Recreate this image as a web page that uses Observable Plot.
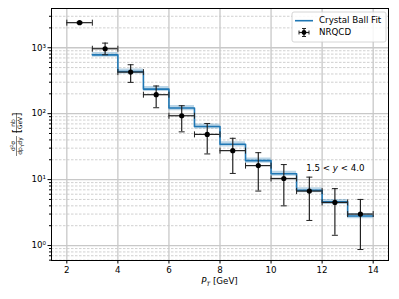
<!DOCTYPE html>
<html>
<head>
<meta charset="utf-8">
<script src="https://cdn.jsdelivr.net/npm/d3@7"></script>
<script src="https://cdn.jsdelivr.net/npm/@observablehq/plot@0.6"></script>
<style>
  html, body { margin: 0; padding: 0; background: #fff; }
  svg { display: block; }
</style>
</head>
<body>
<div id="chart"></div>
<script>
// ---- data ----
const binEdges = [3, 4, 5, 6, 7, 8, 9, 10, 11, 12, 13, 14];
const fitValues = [780, 437, 236, 122, 64, 34.3, 19.4, 12.3, 6.9, 4.6, 2.8];
const fitLow =   [715, 400, 216, 111, 58.5, 31.3, 17.7, 11.2, 6.3, 4.2, 2.55];
const fitHigh =  [850, 477, 258, 133, 70, 37.5, 21.2, 13.4, 7.5, 5.0, 3.05];

const ptX =    [2.5, 3.5, 4.5, 5.5, 6.5, 7.5, 8.5, 9.5, 10.5, 11.5, 12.5, 13.5];
const ptXerr = [0.5, 0.5, 0.5, 0.5, 0.5, 0.5, 0.5, 0.5, 0.5, 0.5, 0.5, 0.5];
const ptY =    [2400, 965, 427, 194, 93, 48.5, 27.5, 16.3, 10.4, 6.7, 4.5, 3.0];
const ptYlo =  [2350, 783, 298, 123, 53, 24.5, 12.4, 6.7, 4.0, 2.4, 1.43, 0.87];
const ptYhi =  [2450, 1175, 552, 263, 132, 71, 42.3, 25.6, 16.9, 10.9, 7.3, 5.0];

const xTicks = [2, 4, 6, 8, 10, 12, 14];
const yTicks = [1, 10, 100, 1000];
const yTickLabels = ["10\u2070", "10\u00B9", "10\u00B2", "10\u00B3"];
const yMinorMultipliers = [2, 3, 4, 5, 6, 7, 8, 9];
const annotation = {x: 12.54, y: 14.8};

// ---- derived tables ----
const stairs = binEdges.map((e, i) => {
  const k = Math.min(i, fitValues.length - 1);
  return {x: e, y: fitValues[k], lo: fitLow[k], hi: fitHigh[k]};
});
const points = ptX.map((x, i) => ({
  x, y: ptY[i], x1: x - ptXerr[i], x2: x + ptXerr[i], y1: ptYlo[i], y2: ptYhi[i]
}));
const yMinor = [];
[0.1, 1, 10, 100, 1000].forEach(d => yMinorMultipliers.forEach(m => {
  const v = d * m;
  if (v > 0.59 && v < 3900) yMinor.push(v);
}));

// custom cap symbols
const hCap = {draw(ctx, size) { const r = 3; ctx.moveTo(-r, 0); ctx.lineTo(r, 0); }};
const vCap = {draw(ctx, size) { const r = 3; ctx.moveTo(0, -r); ctx.lineTo(0, r); }};

const C0 = "#1f77b4";
const ebColor = "#222";

const plot = Plot.plot({
  width: 399,
  height: 299,
  marginLeft: 51,
  marginRight: 11,
  marginTop: 8,
  marginBottom: 39,
  style: {fontFamily: "DejaVu Sans", fontSize: "8.7px", background: "#fff", color: "#000"},
  x: {domain: [1.4, 14.6]},
  y: {type: "log", domain: [0.593, 3936]},
  marks: [
    Plot.ruleY(yMinor, {stroke: "#c4c4c4", strokeWidth: 0.8, strokeDasharray: "2.5,1.5"}),
    Plot.gridX({ticks: xTicks, stroke: "#c8c8c8", strokeOpacity: 1, strokeWidth: 1.3}),
    Plot.gridY({ticks: yTicks, stroke: "#c8c8c8", strokeOpacity: 1, strokeWidth: 1.3}),
    Plot.areaY(stairs, {x: "x", y1: "lo", y2: "hi", curve: "step-after", fill: C0, fillOpacity: 0.3}),
    Plot.line(stairs, {x: "x", y: "y", curve: "step-after", stroke: C0, strokeWidth: 1.6}),
    Plot.ruleY(points, {y: "y", x1: "x1", x2: "x2", stroke: ebColor, strokeWidth: 1.2}),
    Plot.ruleX(points, {x: "x", y1: "y1", y2: "y2", stroke: ebColor, strokeWidth: 1.2}),
    Plot.dot(points, {x: "x1", y: "y", symbol: vCap, r: 3, stroke: ebColor, strokeWidth: 1}),
    Plot.dot(points, {x: "x2", y: "y", symbol: vCap, r: 3, stroke: ebColor, strokeWidth: 1}),
    Plot.dot(points, {x: "x", y: "y1", symbol: hCap, r: 3, stroke: ebColor, strokeWidth: 1}),
    Plot.dot(points, {x: "x", y: "y2", symbol: hCap, r: 3, stroke: ebColor, strokeWidth: 1}),
    Plot.dot(points, {x: "x", y: "y", r: 2.6, fill: "#000", stroke: "none"}),
    Plot.axisX({ticks: xTicks, tickSize: 3.5, tickPadding: 3, label: null, tickFormat: d => String(d)}),
    Plot.axisY({ticks: yTicks, tickSize: 3.5, tickPadding: 2, label: null,
      tickFormat: d => yTickLabels[yTicks.indexOf(d)]}),
    Plot.axisY({ticks: yMinor, tickSize: 2, tickFormat: () => "", label: null}),
    Plot.frame({stroke: "#000", strokeWidth: 1})
  ]
});

document.getElementById("chart").appendChild(plot);

const svg = d3.select(plot);
const xs = plot.scale("x"), ys = plot.scale("y");
const FF = "DejaVu Sans";

// annotation 1.5 < y < 4.0
const ann = svg.append("text")
  .attr("x", xs.apply(annotation.x)).attr("y", ys.apply(annotation.y))
  .attr("text-anchor", "middle").attr("dominant-baseline", "middle")
  .attr("font-family", FF).attr("font-size", "8.7px").attr("fill", "#000");
ann.append("tspan").text("1.5 < ");
ann.append("tspan").attr("font-style", "italic").text("y");
ann.append("tspan").text(" < 4.0");

// x label P_T [GeV]
const xl = svg.append("text")
  .attr("x", 219.5).attr("y", 284)
  .attr("text-anchor", "middle")
  .attr("font-family", FF).attr("font-size", "8.7px").attr("fill", "#000");
xl.append("tspan").attr("font-style", "italic").text("P");
xl.append("tspan").attr("font-style", "italic").attr("font-size", "6px").attr("dy", 2).text("T");
xl.append("tspan").attr("dy", -2).text(" [GeV]");

// y label: d^2σ/(dp_T dy) [nb/GeV]
const yl = svg.append("g").attr("transform", "translate(16.5,135) rotate(-90)")
  .attr("font-family", FF).attr("fill", "#000");
function frac(cx, num, den) {
  const n = yl.append("text").attr("x", cx).attr("y", -1.8).attr("text-anchor", "middle").attr("font-size", "6px");
  num(n);
  yl.append("line").attr("x1", cx - 10).attr("x2", cx + 10).attr("y1", 0).attr("y2", 0)
    .attr("stroke", "#000").attr("stroke-width", 0.5);
  const d = yl.append("text").attr("x", cx).attr("y", 5.6).attr("text-anchor", "middle").attr("font-size", "6px");
  den(d);
}
frac(-11, t => { t.append("tspan").text("d"); t.append("tspan").attr("font-size", "4px").attr("dy", -2).text("2"); t.append("tspan").attr("dy", 2).text("σ"); },
          t => { t.append("tspan").text("dp"); t.append("tspan").attr("font-size", "4px").attr("dy", 1.5).text("T"); t.append("tspan").attr("dy", -1.5).text("dy"); });
yl.append("text").attr("x", 4).attr("y", 3).attr("text-anchor", "middle").attr("font-size", "10px").text("[");
frac(12, t => t.text("nb"), t => t.text("GeV"));
yl.append("text").attr("x", 20.5).attr("y", 3).attr("text-anchor", "middle").attr("font-size", "10px").text("]");

// legend
const lg = svg.append("g").attr("text-anchor", "start");
lg.append("rect").attr("x", 292).attr("y", 12).attr("width", 94).attr("height", 30)
  .attr("rx", 2).attr("fill", "#fff").attr("fill-opacity", 0.85).attr("stroke", "#ccc").attr("stroke-width", 0.8);
lg.append("line").attr("x1", 295).attr("x2", 313).attr("y1", 20.7).attr("y2", 20.7)
  .attr("stroke", C0).attr("stroke-width", 1.6);
lg.append("text").attr("x", 319).attr("y", 20.7).attr("dominant-baseline", "middle").attr("text-anchor", "start")
  .attr("font-family", FF).attr("font-size", "8.7px").text("Crystal Ball Fit");
// errorbar handle
const hx = 304, hy = 32.5;
lg.append("line").attr("x1", hx - 5).attr("x2", hx + 5).attr("y1", hy).attr("y2", hy).attr("stroke", ebColor).attr("stroke-width", 1.2);
lg.append("line").attr("x1", hx).attr("x2", hx).attr("y1", hy - 4).attr("y2", hy + 4).attr("stroke", ebColor).attr("stroke-width", 1.2);
lg.append("line").attr("x1", hx - 5).attr("x2", hx - 5).attr("y1", hy - 2).attr("y2", hy + 2).attr("stroke", ebColor);
lg.append("line").attr("x1", hx + 5).attr("x2", hx + 5).attr("y1", hy - 2).attr("y2", hy + 2).attr("stroke", ebColor);
lg.append("line").attr("x1", hx - 2).attr("x2", hx + 2).attr("y1", hy - 4).attr("y2", hy - 4).attr("stroke", ebColor);
lg.append("line").attr("x1", hx - 2).attr("x2", hx + 2).attr("y1", hy + 4).attr("y2", hy + 4).attr("stroke", ebColor);
lg.append("circle").attr("cx", hx).attr("cy", hy).attr("r", 2.4).attr("fill", "#000");
lg.append("text").attr("x", 319).attr("y", 32.5).attr("dominant-baseline", "middle").attr("text-anchor", "start")
  .attr("font-family", FF).attr("font-size", "8.7px").text("NRQCD");
</script>
</body>
</html>
